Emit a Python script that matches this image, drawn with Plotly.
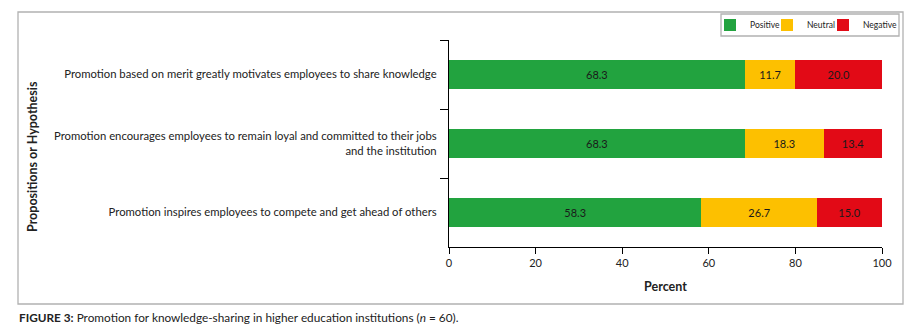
import plotly.graph_objects as go

categories = [
    "Promotion based on merit greatly motivates employees to share knowledge",
    "Promotion encourages employees to remain loyal and committed to their jobs<br>and the institution",
    "Promotion inspires employees to compete and get ahead of others",
]
positive = [68.3, 68.3, 58.3]
neutral = [11.7, 18.3, 26.7]
negative = [20.0, 13.4, 15.0]
x_ticks = [0, 20, 40, 60, 80, 100]

series = [
    ("Positive", positive, "#22A33F"),
    ("Neutral", neutral, "#FDC000"),
    ("Negative", negative, "#E20A16"),
]

FONT = "Lato"
W, H = 908, 335
L, R, T, B = 449, 26, 40, 88
pw, ph = W - L - R, H - T - B

def px(x):
    return (x - L) / pw

def py(y):
    return (H - B - y) / ph

legend_ids = ["legend", "legend2", "legend3"]
legend_left = [710, 767, 823]   # pixel left edges of each legend entry

fig = go.Figure()
for (name, vals, col), lid in zip(series, legend_ids):
    fig.add_trace(go.Bar(
        y=categories, x=vals, name=name, orientation="h",
        marker=dict(color=col, line=dict(width=0)),
        text=vals, texttemplate="%{x:.1f}", textposition="inside",
        insidetextanchor="middle",
        textfont=dict(family=FONT, size=11, color="#1a1a1a"),
        width=0.42, hoverinfo="skip", legend=lid,
    ))

legend_common = dict(
    orientation="h", xref="container", yref="container",
    xanchor="left", y=1 - 25 / H, yanchor="middle",
    borderwidth=0, bgcolor="rgba(0,0,0,0)",
    font=dict(family=FONT, size=8.5, color="#222"),
    itemwidth=30,
)

fig.update_layout(
    template="simple_white",
    barmode="stack",
    width=W, height=H,
    margin=dict(l=L, r=R, t=T, b=B, autoexpand=False),
    paper_bgcolor="white", plot_bgcolor="white",
    font=dict(family=FONT, size=11.3, color="#222"),
    showlegend=True,
    uniformtext=dict(minsize=10, mode="show"),
    **{lid: dict(legend_common, x=xl / W) for lid, xl in zip(legend_ids, legend_left)},
)

fig.update_xaxes(
    automargin=False,
    range=[0, 100], tickvals=x_ticks, showgrid=False, zeroline=False,
    showline=True, linecolor="#000", linewidth=1.2,
    ticks="outside", ticklen=6, tickcolor="#000", tickwidth=1.2,
    tickfont=dict(family=FONT, size=11, color="#222"),
    title=dict(text="<b>Percent</b>", standoff=13,
               font=dict(family=FONT, size=12.5, color="#222")),
)
fig.update_yaxes(
    automargin=False,
    categoryorder="array", categoryarray=categories, autorange="reversed",
    showgrid=False, zeroline=False, showline=True, linecolor="#000", linewidth=1.2,
    ticks="outside", ticklen=8, tickcolor="#000", tickwidth=1.2,
    tickson="boundaries", ticklabelstandoff=9,
    tickfont=dict(family=FONT, size=11.3, color="#222"),
)

fig.add_annotation(
    text="<b>Propositions or Hypothesis</b>", textangle=-90,
    xref="paper", yref="paper", x=px(32), y=py(157),
    xanchor="center", yanchor="middle", showarrow=False,
    font=dict(family=FONT, size=12.5, color="#222"),
)

fig.add_annotation(
    text="<b>FIGURE 3:</b> Promotion for knowledge-sharing in higher education institutions (<i>n</i> = 60).",
    xref="paper", yref="paper", x=px(17), y=py(317),
    xanchor="left", yanchor="middle", showarrow=False,
    font=dict(family=FONT, size=11.8, color="#222"),
)

# outer figure frame
fig.add_shape(
    type="rect", xref="paper", yref="paper",
    x0=px(18), x1=px(903), y0=py(304), y1=py(12),
    line=dict(color="#000", width=1.3), fillcolor="rgba(0,0,0,0)", layer="above",
)
# legend frame
fig.add_shape(
    type="rect", xref="paper", yref="paper",
    x0=px(721), x1=px(899), y0=py(36), y1=py(14),
    line=dict(color="#000", width=1.3), fillcolor="rgba(0,0,0,0)", layer="above",
)

fig.write_html(
    "out.html",
    config={"displayModeBar": False},
    post_script="document.body.style.margin='0';document.body.style.overflow='hidden';",
)
